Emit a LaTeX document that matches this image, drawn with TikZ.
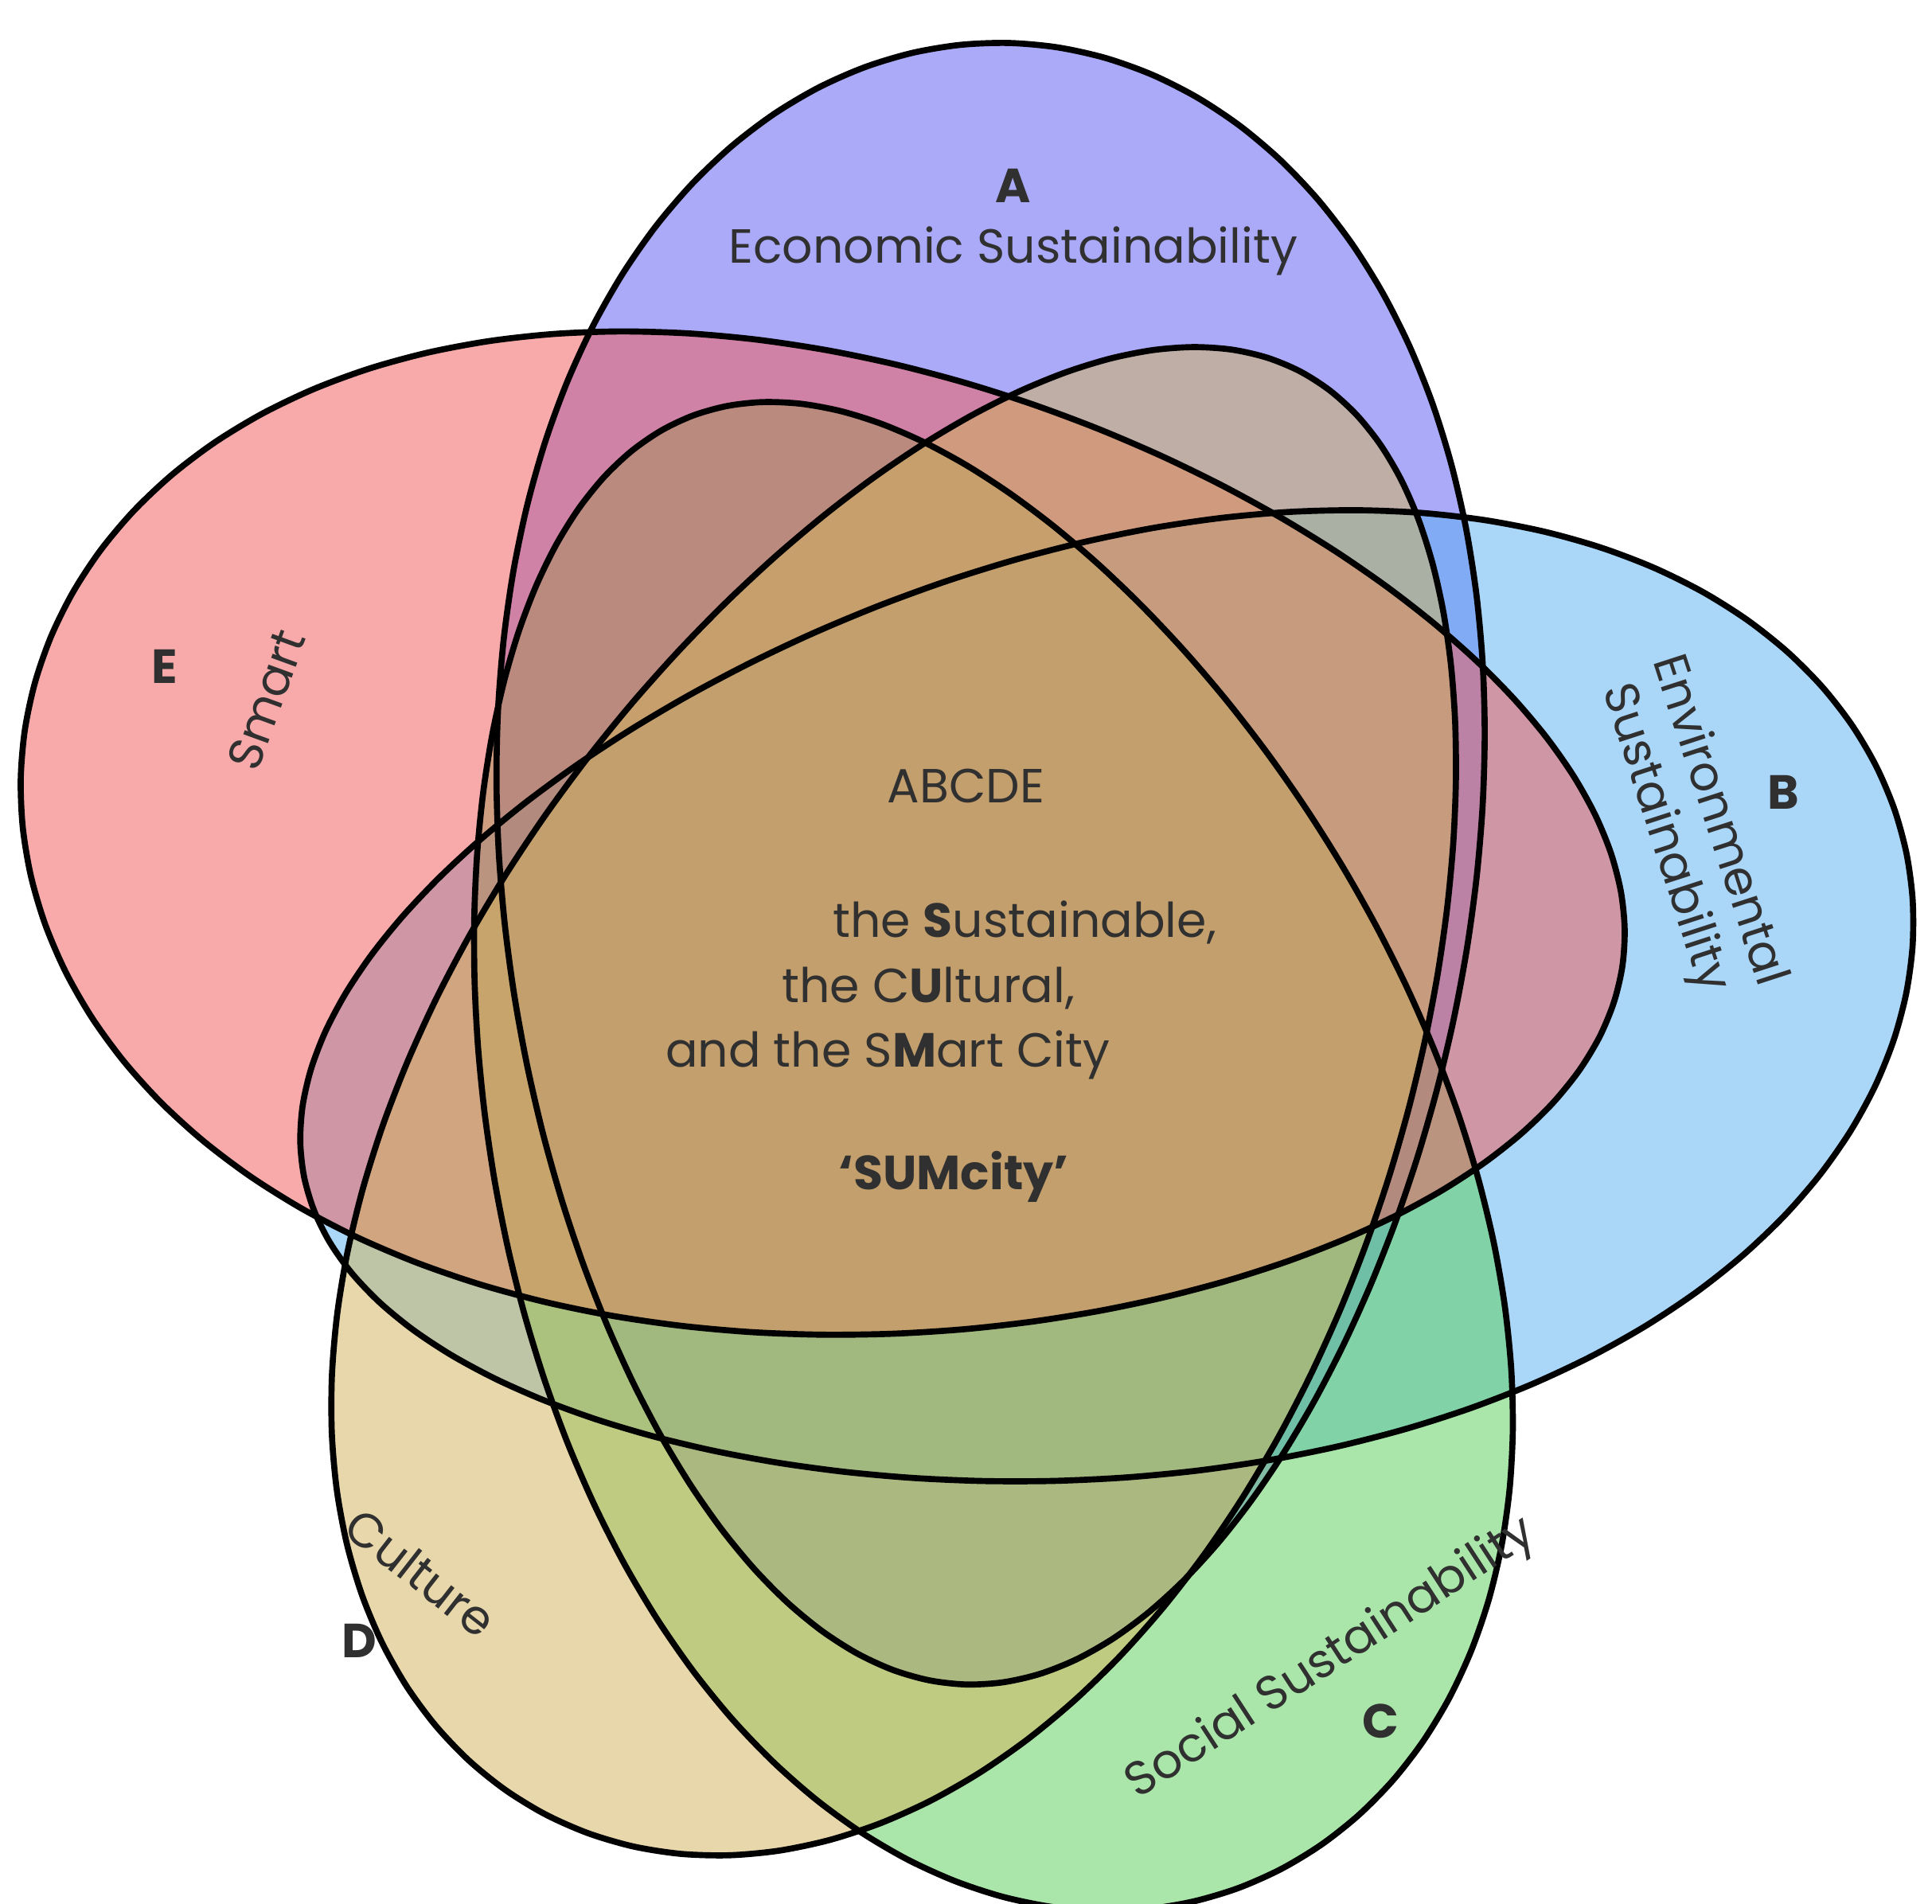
\documentclass[tikz,border=0pt]{standalone}
\usepackage{fontspec}
\setmainfont{Poppins}
\begin{document}
\begin{tikzpicture}
\definecolor{cA}{HTML}{5C5CF2}\definecolor{cB}{HTML}{5CB0F2}
\definecolor{cC}{HTML}{5CD05C}\definecolor{cD}{HTML}{D2B35C}
\definecolor{cE}{HTML}{F25C5C}\definecolor{tx}{HTML}{303030}
\tikzset{set/.style={fill=#1,fill opacity=0.52},edge/.style={draw=black,line width=1.4pt},
 lab/.style={text=tx,font=\fontsize{11}{13}\selectfont,align=center},
 let/.style={text=tx,font=\fontsize{11}{13}\selectfont\bfseries}}
\useasboundingbox (0,0) rectangle (15.6,15.37);
\newcommand{\egg}[5]{[shift={(#1)},rotate=#2] plot[smooth cycle,samples=72,domain=0:355,variable=\t] ({#3*cos(\t)},{#4*sin(\t)*(1+0.14*cos(\t))})}
\newcommand{\ellA}{\egg{7.975,8.395}{88.5}{6.63}{3.95}{}}
\newcommand{\ellB}{\egg{8.925,7.17}{11.4}{6.60}{3.75}{}}
\newcommand{\ellC}{\egg{7.80,6.07}{-69.7}{6.34}{3.8}{}}
\newcommand{\ellD}{\egg{7.45,6.545}{242.4}{6.575}{3.8}{}}
\newcommand{\ellE}{\egg{6.65,8.52}{171.6}{6.52}{3.95}{}}
\fill[set=cA] \ellA; \fill[set=cB] \ellB; \fill[set=cC] \ellC; \fill[set=cE] \ellE; \fill[set=cD] \ellD;
\draw[edge] \ellA; \draw[edge] \ellB; \draw[edge] \ellC; \draw[edge] \ellD; \draw[edge] \ellE;
\node[let] (la) at (8.18,13.87) {A};
\node[lab] (ta) at (8.18,13.34) {Economic Sustainability};
\node[let] (le) at (1.33,9.99) {E};
\node[lab,rotate=70] (te) at (2.15,9.72) {Smart};
\node[lab,rotate=-72] (tb) at (13.65,8.67) {Environmental\\Sustainability};
\node[let] (lb) at (14.40,8.97) {B};
\node[lab,rotate=33] (tc) at (10.75,1.97) {Social Sustainability};
\node[let] (lc) at (11.15,1.47) {C};
\node[lab,rotate=-38] (td) at (3.40,2.67) {Culture};
\node[let] (ld) at (2.90,2.12) {D};
\node[lab] (abc) at (7.80,9.02) {ABCDE};
\node[lab,anchor=west] (l1) at (6.60,7.92) {the \textbf{S}ustainable,};
\node[lab,anchor=west] (l2) at (6.19,7.39) {the C\textbf{U}ltural,};
\node[lab,anchor=west] (l3) at (5.25,6.85) {and the S\textbf{M}art City};
\node[let] (sum) at (7.70,5.87) {‘SUMcity’};
\end{tikzpicture}
\end{document}
